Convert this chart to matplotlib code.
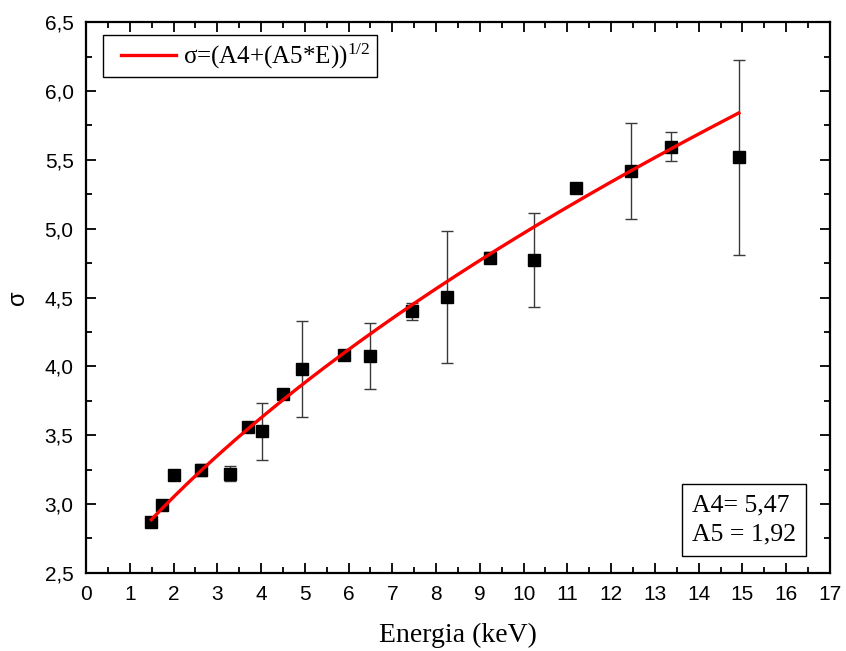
import numpy as np
import matplotlib
matplotlib.use('Agg')
from matplotlib import pyplot
from matplotlib.ticker import MultipleLocator, FormatStrFormatter, FuncFormatter

SERIF = ['Liberation Serif', 'DejaVu Serif']
SANS = ['Liberation Sans', 'DejaVu Sans']

matplotlib.rcParams['font.family'] = SANS
matplotlib.rcParams['mathtext.fontset'] = 'custom'
matplotlib.rcParams['mathtext.rm'] = 'Liberation Serif'
matplotlib.rcParams['mathtext.it'] = 'Liberation Serif'

# measured resolution vs. energy
energy = [1.49, 1.74, 2.02, 2.62, 3.30, 3.69, 4.01, 4.51, 4.94, 5.89, 6.48,
          7.46, 8.25, 9.23, 10.24, 11.20, 12.45, 13.36, 14.92]
sigma = [2.87, 2.99, 3.21, 3.245, 3.22, 3.558, 3.53, 3.797, 3.979, 4.083, 4.077,
         4.40, 4.504, 4.787, 4.773, 5.297, 5.418, 5.596, 5.517]
sigma_err = [0.0, 0.0, 0.03, 0.045, 0.055, 0.0, 0.207, 0.0, 0.35, 0.0, 0.24,
             0.06, 0.48, 0.04, 0.34, 0.02, 0.35, 0.107, 0.707]

# fit parameters
A4 = 5.47
A5 = 1.92

E_fit = np.linspace(energy[0], energy[-1], 200)
sigma_fit = np.sqrt(A4 + A5*E_fit)

fig = pyplot.figure(figsize=(8.46, 6.51), dpi=100)
ax = fig.add_axes([0.1017, 0.120, 0.8793, 0.846])

ax.errorbar(energy, sigma, yerr=sigma_err, fmt='none', ecolor='#3a3a3a',
            elinewidth=1, capsize=4.5, capthick=1, zorder=2)
ax.plot(energy, sigma, ls='none', marker='s', ms=8.5, c='k', zorder=3)
ax.plot(E_fit, sigma_fit, c='#ff0000', lw=2.4, zorder=4,
        label=r'σ=(A4+(A5*E))$^{1/2}$')

ax.set_xlim(0, 17)
ax.set_ylim(2.5, 6.5)
ax.xaxis.set_major_locator(MultipleLocator(1))
ax.xaxis.set_minor_locator(MultipleLocator(0.5))
ax.yaxis.set_major_locator(MultipleLocator(0.5))
ax.yaxis.set_minor_locator(MultipleLocator(0.25))
ax.yaxis.set_major_formatter(FuncFormatter(lambda v, p: ('%.1f' % v).replace('.', ',')))
ax.xaxis.set_major_formatter(FormatStrFormatter('%d'))

ax.tick_params(which='both', direction='in', top=True, right=True, width=1.3)
ax.tick_params(which='major', length=7, labelsize=15)
ax.tick_params(which='minor', length=4)
ax.tick_params(axis='x', which='major', pad=9)
ax.tick_params(axis='y', which='major', pad=9)
for sp in ax.spines.values():
    sp.set_linewidth(1.6)

ax.set_xlabel('Energia (keV)', family=SERIF, fontsize=20, labelpad=13)
ax.set_ylabel('σ', fontsize=17, labelpad=11)

leg = ax.legend(loc='upper left', bbox_to_anchor=(0.023, 0.976), borderaxespad=0,
                fancybox=False, edgecolor='k', framealpha=1, handlelength=2.65,
                handletextpad=0.3, borderpad=0.25, prop={'family': SERIF, 'size': 18})
leg.get_frame().set_linewidth(1)
# leave some blank room before the legend line
hline = leg.get_lines()[0]
hx = np.asarray(hline.get_xdata(), dtype=float)
hline.set_xdata(np.linspace(hx[0] + 8, hx[-1], len(hx)))

ax.text(0.8145, 0.049, 'A4= 5,47\nA5 = 1,92', transform=ax.transAxes,
        ha='left', va='bottom', family=SERIF, fontsize=18.5, linespacing=1.45,
        bbox=dict(boxstyle='square,pad=0.4', fc='white', ec='k', lw=1))

fig.savefig('out.png', dpi=100)
